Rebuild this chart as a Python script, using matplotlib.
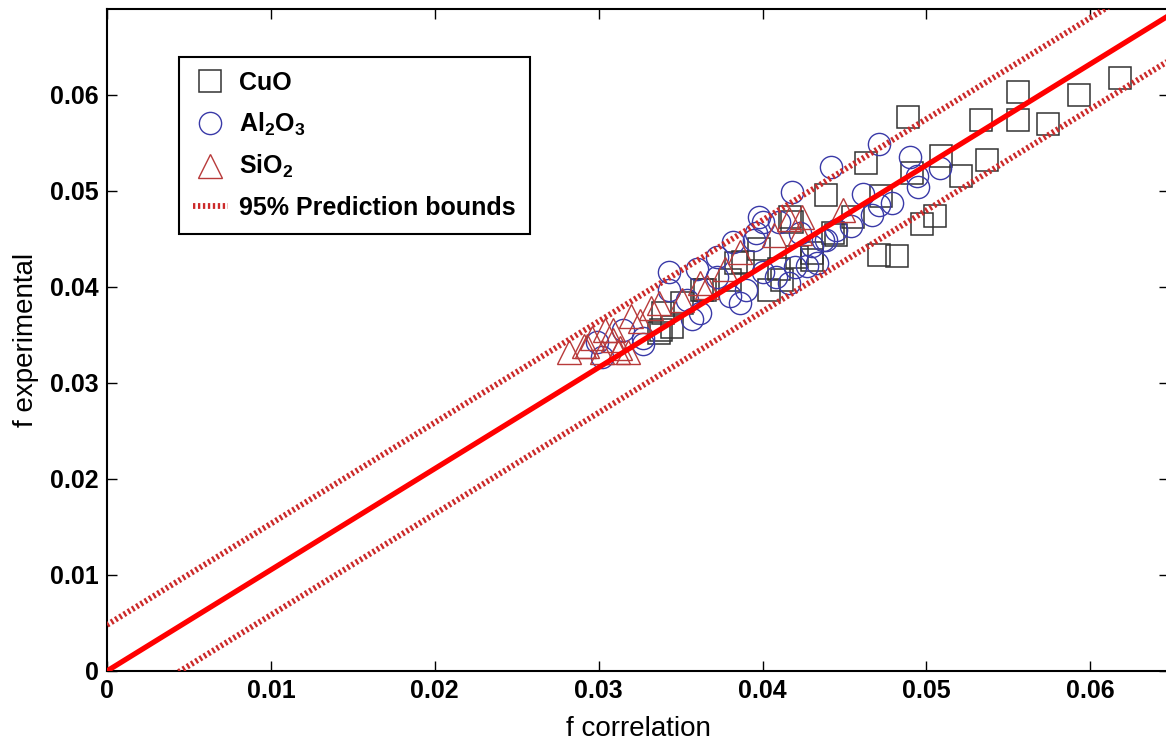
import numpy as np
import matplotlib
matplotlib.use('Agg')
import matplotlib.pyplot as plt

plt.rcParams['font.family'] = ['Liberation Sans', 'DejaVu Sans']
plt.rcParams['mathtext.fontset'] = 'custom'
plt.rcParams['mathtext.rm'] = 'Liberation Sans:bold'
plt.rcParams['mathtext.it'] = 'Liberation Sans:bold'
plt.rcParams['mathtext.bf'] = 'Liberation Sans:bold'
plt.rcParams['mathtext.default'] = 'rm'

# CuO data (f correlation, f experimental)
cuo_x = [0.0618, 0.0556, 0.0593, 0.0489, 0.0533, 0.0556, 0.0574, 0.0463, 0.0509,
         0.0537, 0.0521, 0.0491, 0.0439, 0.0472, 0.0417, 0.0505, 0.0497, 0.0455,
         0.0443, 0.0471, 0.0482, 0.0430, 0.0398, 0.0384, 0.0418, 0.0404, 0.0410,
         0.0421, 0.0430, 0.0412, 0.0380, 0.0363, 0.0351, 0.0345, 0.0337, 0.0339,
         0.0388, 0.0365, 0.0338, 0.0445]
cuo_y = [0.0617, 0.0603, 0.0599, 0.0577, 0.0573, 0.0573, 0.0569, 0.0529, 0.0536,
         0.0532, 0.0515, 0.0518, 0.0495, 0.0494, 0.0472, 0.0474, 0.0465, 0.0473,
         0.0456, 0.0433, 0.0432, 0.0435, 0.0439, 0.0425, 0.0467, 0.0397, 0.0418,
         0.0431, 0.0428, 0.0407, 0.0407, 0.0397, 0.0383, 0.0358, 0.0352, 0.0373,
         0.0426, 0.0397, 0.0355, 0.0454]

# Al2O3 data
al_x = [0.0471, 0.0442, 0.0490, 0.0494, 0.0508, 0.0495, 0.0418, 0.0461, 0.0471,
        0.0479, 0.0467, 0.0454, 0.0445, 0.0439, 0.0398, 0.0395, 0.0343, 0.0360,
        0.0372, 0.0382, 0.0396, 0.0372, 0.0380, 0.0386, 0.0390, 0.0400, 0.0408,
        0.0416, 0.0427, 0.0430, 0.0437, 0.0400, 0.0410, 0.0423, 0.0354, 0.0343,
        0.0315, 0.0327, 0.0302, 0.0299, 0.0362, 0.0357, 0.0327, 0.0420, 0.0433]
al_y = [0.0548, 0.0525, 0.0535, 0.0515, 0.0524, 0.0504, 0.0499, 0.0496, 0.0485,
        0.0487, 0.0475, 0.0463, 0.0459, 0.0449, 0.0472, 0.0449, 0.0415, 0.0418,
        0.0431, 0.0446, 0.0456, 0.0410, 0.0390, 0.0383, 0.0397, 0.0415, 0.0410,
        0.0404, 0.0421, 0.0442, 0.0449, 0.0467, 0.0467, 0.0456, 0.0386, 0.0397,
        0.0355, 0.0347, 0.0327, 0.0342, 0.0373, 0.0366, 0.0340, 0.0420, 0.0425]

# SiO2 data
si_x = [0.0282, 0.0291, 0.0296, 0.0302, 0.0309, 0.0312, 0.0320, 0.0318, 0.0332,
        0.0337, 0.0351, 0.0309, 0.0304, 0.0325, 0.0362, 0.0377, 0.0386, 0.0407,
        0.0423, 0.0366, 0.0416, 0.0424, 0.0449, 0.0313, 0.0293]
si_y = [0.0332, 0.0338, 0.0347, 0.0332, 0.0345, 0.0332, 0.0369, 0.0332, 0.0378,
        0.0383, 0.0386, 0.0355, 0.0355, 0.0364, 0.0404, 0.0418, 0.0436, 0.0454,
        0.0456, 0.0400, 0.0470, 0.0473, 0.0480, 0.0336, 0.0338]

# linear fit and 95% prediction bounds
slope = 1.053
upper_off = 0.0048
lower_off = -0.0047

xticks = [0, 0.01, 0.02, 0.03, 0.04, 0.05, 0.06]
xlabels = ['0', '0.01', '0.02', '0.03', '0.04', '0.05', '0.06']
yticks = [0, 0.01, 0.02, 0.03, 0.04, 0.05, 0.06]
ylabels = ['0', '0.01', '0.02', '0.03', '0.04', '0.05', '0.06']

fig = plt.figure(figsize=(11.66, 7.51), dpi=100)
ax = fig.add_axes([107/1166, 80/751, 1062/1166, 662/751])

ax.plot(cuo_x, cuo_y, 's', mfc='none', mec='#333333', ms=15.5, mew=1.1, label='CuO')
ax.plot(al_x, al_y, 'o', mfc='none', mec='#3a3aa8', ms=16, mew=1.0, label='Al$_2$O$_3$')
ax.plot(si_x, si_y, '^', mfc='none', mec='#b83a3a', ms=17, mew=1.0, label='SiO$_2$')

# dotted bounds: dense short stripes like the original
dots = (0, (0.4, 0.45))
xx = np.array([0, 0.07])
ax.plot(xx, slope*xx, '-', color='#ff0000', lw=3.8, zorder=5)
ax.plot(xx, slope*xx + upper_off, color='#cc2a2a', lw=4.2, ls=dots,
        zorder=5, label='95% Prediction bounds')
ax.plot(xx, slope*xx + lower_off, color='#cc2a2a', lw=4.2, ls=dots, zorder=5)

ax.set_xlim(0, 0.0648)
ax.set_ylim(0, 0.0689)
ax.set_xticks(xticks)
ax.set_xticklabels(xlabels)
ax.set_yticks(yticks)
ax.set_yticklabels(ylabels)
ax.tick_params(direction='in', length=7, width=1, top=True, right=True,
               labelsize=18, pad=6)
for lab in ax.get_xticklabels() + ax.get_yticklabels():
    lab.set_fontweight('bold')
for s in ax.spines.values():
    s.set_linewidth(1.5)

ax.set_xlabel('f correlation', fontsize=20, labelpad=9)
ax.set_ylabel('f experimental', fontsize=20, labelpad=8)

leg = ax.legend(loc='upper left', bbox_to_anchor=(0.068, 0.927), fancybox=False,
                edgecolor='black', framealpha=1, prop={'weight': 'bold', 'size': 18},
                handlelength=1.4, handletextpad=0.45, labelspacing=0.62,
                borderpad=0.55, borderaxespad=0)
leg.get_frame().set_linewidth(1.5)

plt.savefig('out.png', dpi=100)
